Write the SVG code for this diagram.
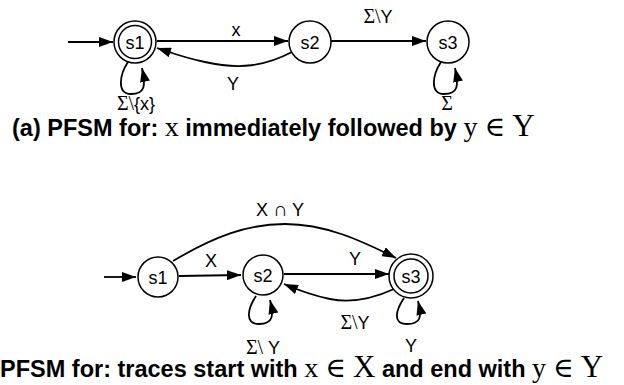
<svg xmlns="http://www.w3.org/2000/svg" width="624" height="385" viewBox="0 0 624 385">
<defs>
<marker id="ah" viewBox="0 0 14 10" refX="14" refY="5" markerWidth="14" markerHeight="10" markerUnits="userSpaceOnUse" orient="auto">
<path d="M0,0 L14,5 L0,10 Z" fill="#000"/>
</marker>
</defs>
<style>
.st{fill:#fff;stroke:#000;stroke-width:1.5}
.e{fill:none;stroke:#000;stroke-width:1.8;marker-end:url(#ah)}
.t{font-family:"Liberation Sans",Arial,sans-serif;font-size:18px;text-anchor:middle;fill:#000}
.m{font-family:"Liberation Serif","DejaVu Serif",serif;font-size:20px}
.cap{font-family:"Liberation Sans",Arial,sans-serif;font-size:23.5px;font-weight:bold;fill:#000}
.cm{font-family:"Liberation Serif","DejaVu Serif",serif;font-weight:normal}
</style>
<g id="edges">
<path class="e" d="M68,42 L113,42"/>
<path class="e" d="M157,41 L288,41"/>
<path class="e" d="M292,52 C265,66 240,70 205,62 C185,58 172,53 157,48"/>
<path class="e" d="M331,41 L426,41"/>
<path class="e" d="M128,62 C120,74 116,94 131,94 C145,94 146,86 142,68"/>
<path class="e" d="M441,62 C433,74 429,94 444,94 C458,94 459,86 455,68"/>
<path class="e" d="M104,277 L136,277"/>
<path class="e" d="M179,276 L241,275"/>
<path class="e" d="M284,274 L389,274"/>
<path class="e" d="M173,261 C215,236 248,224 285,224 C325,224 360,240 396,258"/>
<path class="e" d="M394,289 C370,300 350,303 330,299 C310,295 298,290 284,284"/>
<path class="e" d="M256,296 C248,308 244,324 259,324 C273,324 274,316 270,300"/>
<path class="e" d="M404,298 C396,310 392,324 407,324 C421,324 422,317 418,301"/>
</g>
<g id="a_s1"><circle class="st" cx="135" cy="42" r="21"/><circle class="st" cx="135" cy="42" r="16.5"/><text class="t" x="135" y="48.5">s1</text></g>
<g id="a_s2"><circle class="st" cx="310" cy="42" r="21"/><text class="t" x="310" y="48.5">s2</text></g>
<g id="a_s3"><circle class="st" cx="448" cy="42" r="21"/><text class="t" x="448" y="48.5">s3</text></g>
<g id="a_labels">
<text class="t" x="236" y="36">x</text>
<text class="t" x="233" y="90">Y</text>
<text class="t" x="378" y="23"><tspan class="m">Σ\</tspan>Y</text>
<text class="t" x="136" y="110"><tspan class="m">Σ\</tspan>{x}</text>
<text class="t" x="447" y="110"><tspan class="m">Σ</tspan></text>
</g>
<text class="cap" x="12" y="136">(a) PFSM for: <tspan class="cm" font-size="28">x</tspan>  immediately followed by <tspan class="cm" font-size="28">y ∈ </tspan><tspan class="cm" font-size="31" font-weight="bold">Y</tspan></text>
<g id="b_s1"><circle class="st" cx="158" cy="277" r="20"/><text class="t" x="158" y="283.5">s1</text></g>
<g id="b_s2"><circle class="st" cx="263" cy="275" r="20"/><text class="t" x="263" y="281.5">s2</text></g>
<g id="b_s3"><circle class="st" cx="411" cy="276" r="22"/><circle class="st" cx="411" cy="276" r="17"/><text class="t" x="411" y="282.5">s3</text></g>
<g id="b_labels">
<text class="t" x="211" y="267">X</text>
<text class="t" x="355" y="265">Y</text>
<text class="t" x="280" y="216">X <tspan class="m">∩</tspan> Y</text>
<text class="t" x="355" y="329"><tspan class="m">Σ\</tspan>Y</text>
<text class="t" x="263" y="354"><tspan class="m">Σ\</tspan> Y</text>
<text class="t" x="411" y="352">Y</text>
</g>
<text class="cap" x="0" y="377">PFSM for: traces start with <tspan class="cm" font-size="28">x ∈ </tspan><tspan class="cm" font-size="31" font-weight="bold">X</tspan> and end with <tspan class="cm" font-size="28">y ∈ </tspan><tspan class="cm" font-size="31" font-weight="bold">Y</tspan></text>
</svg>
